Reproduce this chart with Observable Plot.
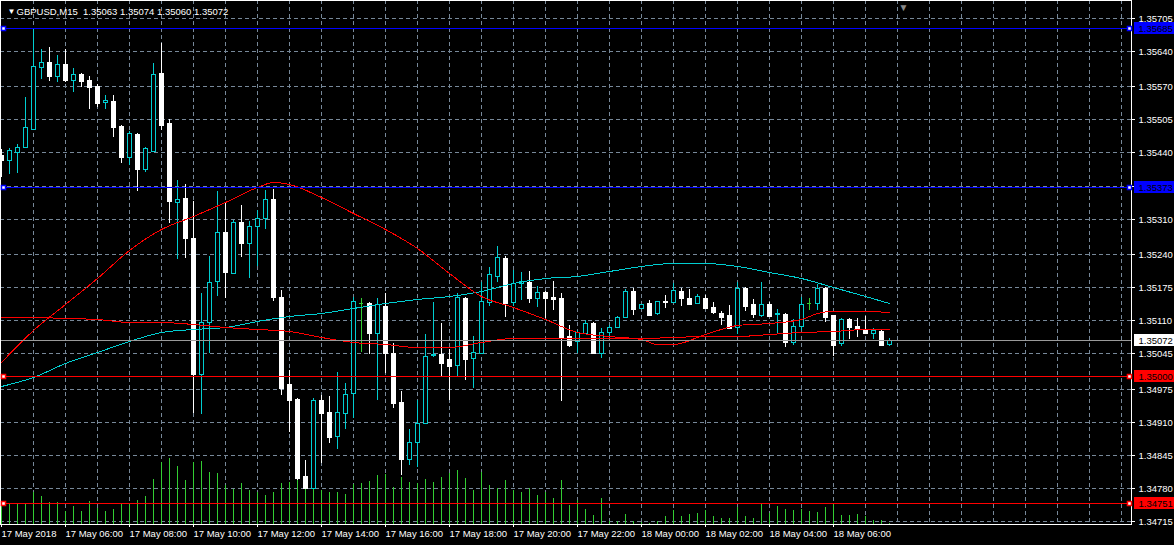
<!DOCTYPE html>
<html>
<head>
<meta charset="utf-8">
<script src="https://cdn.jsdelivr.net/npm/d3@7"></script>
<script src="https://cdn.jsdelivr.net/npm/@observablehq/plot@0.6"></script>
<style>
html, body { margin: 0; padding: 0; background: #000; }
#chart { width: 1174px; height: 545px; overflow: hidden; }
</style>
</head>
<body>
<div id="chart"></div>
<script>
// ---- GBPUSD M15, 17 May 2018 04:00 .. 18 May 2018 07:45 (bar index 0..111) ----
const opens = [
  1.35435,1.35425,1.35441,1.35451,1.35486,1.35608,1.35618,1.35590,1.35614,1.35583,
  1.35594,1.35583,1.35571,1.35539,1.35541,1.35492,1.35431,1.35476,1.35407,1.35443,
  1.35596,1.35498,1.35342,1.35350,1.35272,1.35004,1.35106,1.35187,1.35283,1.35203,
  1.35303,1.35262,1.35295,1.35311,1.35348,1.35156,1.34984,1.34955,1.34803,1.34780,
  1.34953,1.34929,1.34882,1.34927,1.34967,1.35144,1.35144,1.35085,1.35138,1.35045,
  1.34949,1.34837,1.34870,1.34908,1.35041,1.35043,1.35033,1.35022,1.35154,1.35035,
  1.35045,1.35146,1.35197,1.35232,1.35146,1.35183,1.35185,1.35154,1.35165,1.35156,
  1.35154,1.35079,1.35069,1.35085,1.35104,1.35045,1.35087,1.35097,1.35116,1.35167,
  1.35134,1.35144,1.35124,1.35148,1.35146,1.35167,1.35154,1.35144,1.35154,1.35136,
  1.35124,1.35120,1.35097,1.35173,1.35142,1.35120,1.35142,1.35122,1.35122,1.35067,
  1.35099,1.35144,1.35144,1.35173,1.35120,1.35065,1.35112,1.35099,1.35093,1.35085,
  1.35089,1.35063
];
const highs = [
  1.35447,1.35449,1.35457,1.35549,1.35685,1.35644,1.35648,1.35632,1.35644,1.35606,
  1.35596,1.35590,1.35575,1.35553,1.35553,1.35494,1.35482,1.35478,1.35451,1.35616,
  1.35655,1.35506,1.35386,1.35378,1.35344,1.35163,1.35236,1.35364,1.35340,1.35307,
  1.35337,1.35305,1.35327,1.35366,1.35368,1.35169,1.35012,1.34957,1.34835,1.34957,
  1.34963,1.34961,1.35008,1.34986,1.35156,1.35154,1.35146,1.35154,1.35163,1.35065,
  1.34971,1.34896,1.34953,1.35083,1.35146,1.35104,1.35053,1.35163,1.35156,1.35079,
  1.35185,1.35215,1.35256,1.35236,1.35209,1.35205,1.35207,1.35177,1.35167,1.35187,
  1.35163,1.35100,1.35091,1.35110,1.35106,1.35095,1.35100,1.35118,1.35171,1.35173,
  1.35142,1.35150,1.35148,1.35159,1.35183,1.35173,1.35171,1.35161,1.35159,1.35146,
  1.35128,1.35140,1.35185,1.35175,1.35152,1.35185,1.35146,1.35132,1.35124,1.35112,
  1.35156,1.35154,1.35181,1.35175,1.35120,1.35114,1.35114,1.35114,1.35118,1.35095,
  1.35091,1.35074
];
const lows = [
  1.35392,1.35398,1.35400,1.35449,1.35486,1.35585,1.35581,1.35579,1.35579,1.35559,
  1.35569,1.35525,1.35529,1.35525,1.35470,1.35419,1.35415,1.35364,1.35402,1.35441,
  1.35484,1.35301,1.35230,1.35232,1.34927,1.34925,1.35045,1.35157,1.35154,1.35201,
  1.35234,1.35193,1.35217,1.35289,1.35148,1.34963,1.34890,1.34795,1.34778,1.34778,
  1.34829,1.34868,1.34856,1.34896,1.34917,1.35047,1.35043,1.34953,1.35006,1.34937,
  1.34805,1.34825,1.34821,1.34906,1.35037,1.35000,1.34953,1.35000,1.34992,1.34976,
  1.35045,1.35138,1.35185,1.35116,1.35138,1.35150,1.35144,1.35136,1.35114,1.35130,
  1.34951,1.35057,1.35045,1.35085,1.35045,1.35035,1.35077,1.35095,1.35114,1.35120,
  1.35134,1.35118,1.35120,1.35134,1.35144,1.35138,1.35140,1.35142,1.35132,1.35122,
  1.35100,1.35093,1.35083,1.35128,1.35114,1.35116,1.35118,1.35083,1.35057,1.35061,
  1.35091,1.35130,1.35130,1.35106,1.35039,1.35059,1.35073,1.35077,1.35085,1.35073,
  1.35059,1.35060
];
const closes = [
  1.35425,1.35445,1.35451,1.35490,1.35610,1.35618,1.35590,1.35614,1.35583,1.35594,
  1.35581,1.35569,1.35537,1.35543,1.35490,1.35431,1.35478,1.35407,1.35449,1.35594,
  1.35494,1.35344,1.35348,1.35272,1.35004,1.35106,1.35185,1.35283,1.35205,1.35303,
  1.35262,1.35295,1.35311,1.35348,1.35156,1.34976,1.34953,1.34799,1.34780,1.34953,
  1.34927,1.34880,1.34929,1.34965,1.35148,1.35144,1.35085,1.35142,1.35045,1.34947,
  1.34837,1.34870,1.34908,1.35039,1.35043,1.35026,1.35020,1.35156,1.35033,1.35047,
  1.35148,1.35201,1.35234,1.35144,1.35183,1.35187,1.35154,1.35165,1.35154,1.35152,
  1.35077,1.35061,1.35087,1.35104,1.35045,1.35087,1.35097,1.35116,1.35167,1.35132,
  1.35142,1.35120,1.35148,1.35146,1.35169,1.35154,1.35142,1.35157,1.35134,1.35126,
  1.35116,1.35095,1.35173,1.35138,1.35122,1.35142,1.35118,1.35124,1.35067,1.35099,
  1.35142,1.35144,1.35173,1.35116,1.35061,1.35112,1.35097,1.35093,1.35085,1.35091,
  1.35061,1.35072
];
// tick volume per bar
const volumes = [
  190,200,200,200,320,280,220,220,130,180,
  130,230,160,130,150,210,210,240,280,450,
  620,660,580,440,620,630,520,510,390,350,
  410,340,320,290,320,410,420,550,460,410,
  340,320,320,300,400,410,430,490,500,370,
  470,420,410,450,420,470,510,540,460,340,
  520,390,360,440,340,320,360,290,320,260,
  440,190,240,145,90,260,30,25,100,30,
  20,10,25,80,135,80,100,110,135,80,
  60,60,165,80,60,210,110,180,145,140,
  145,130,115,165,200,90,90,100,80,40,
  40,10
];

// moving averages (read at these bar indices)
const maIdx = [0,4,8,12,16,20,24,28,32,36,40,44,48,52,56,60,64,68,72,76,80,84,88,92,96,100,104,108,111];
const maCyan = [1.34980,1.34998,1.35026,1.35047,1.35069,1.35087,1.35093,1.35097,1.35108,1.35118,1.35124,1.35134,1.35144,1.35152,1.35157,1.35167,1.35183,1.35193,1.35197,1.35207,1.35217,1.35222,1.35222,1.35217,1.35205,1.35193,1.35175,1.35157,1.35144];
const maSlowRed = [1.35116,1.35116,1.35114,1.35112,1.35106,1.35106,1.35102,1.35097,1.35093,1.35089,1.35077,1.35067,1.35063,1.35057,1.35057,1.35067,1.35075,1.35075,1.35075,1.35075,1.35075,1.35077,1.35079,1.35079,1.35083,1.35087,1.35089,1.35093,1.35093];
const fastIdx = [0,4,8,12,16,20,24,28,32,34,36,40,44,48,52,56,60,64,68,72,76,80,82,84,88,92,96,100,102,104,108,111];
const maFastRed = [1.35028,1.35091,1.35142,1.35193,1.35248,1.35289,1.35315,1.35342,1.35372,1.35382,1.35378,1.35352,1.35321,1.35289,1.35252,1.35203,1.35157,1.35136,1.35112,1.35087,1.35079,1.35073,1.35063,1.35063,1.35083,1.35100,1.35104,1.35112,1.35124,1.35128,1.35128,1.35126];

// horizontal line objects
const levelPrices = [1.35685, 1.35373, 1.35000, 1.34751];
const levelColors = ["#0000FF", "#0000FF", "#FF0000", "#FF0000"];
const bidPrice = 1.35072;

// axes
const priceTicks = [1.35705,1.35640,1.35570,1.35505,1.35440,1.35375,1.35310,1.35240,1.35175,1.35110,1.35045,1.34975,1.34910,1.34845,1.34780,1.34715];
const timeTickIdx = [0,8,16,24,32,40,48,56,64,72,80,88,96,104];
const timeTickLabels = ["17 May 2018","17 May 06:00","17 May 08:00","17 May 10:00","17 May 12:00","17 May 14:00","17 May 16:00","17 May 18:00","17 May 20:00","17 May 22:00","18 May 00:00","18 May 02:00","18 May 04:00","18 May 06:00"];
const symbolName = "GBPUSD,M15";
const shiftBar = 112.75;

// ---- build ----
const CYAN = "#00CED1", BEAR = "#FFFFFF", DOJI = "#32CD32", GRID = "#778899";
const yMin = 1.34709, yMax = 1.35740;
const xMin = -0.125, xMax = 141.25;
const VOL_K = 0.000001968;
const fmt = d3.format(".5f");

const bars = opens.map((o, i) => ({i, o, h: highs[i], l: lows[i], c: closes[i], v: volumes[i]}));
const col = d => d.c > d.o ? CYAN : d.c < d.o ? BEAR : DOJI;
const cyanPts = maIdx.map((i, k) => ({i, v: maCyan[k]}));
const slowPts = maIdx.map((i, k) => ({i, v: maSlowRed[k]}));
const fastPts = fastIdx.map((i, k) => ({i, v: maFastRed[k]}));
const levels = levelPrices.map((p, k) => ({price: p, color: levelColors[k]}));
const markers = [
  ...levels.map(d => ({price: d.price, bg: d.color, fg: "#000000"})),
  {price: bidPrice, bg: "#FFFFFF", fg: "#000000"}
];
const last = bars[bars.length - 1];
const header = `${symbolName}  ${fmt(last.o)} ${fmt(last.h)} ${fmt(last.l)} ${fmt(last.c)}`;
const lineOpts = {x: "i", y: "v", strokeWidth: 1, curve: "monotone-x", shapeRendering: "crispEdges"};

const chart = Plot.plot({
  width: 1174,
  height: 545,
  marginLeft: 0,
  marginRight: 43,
  marginTop: 0,
  marginBottom: 21,
  style: {background: "#000", color: "#fff", fontFamily: "'Liberation Sans', Arial, sans-serif", fontSize: "9.5px"},
  x: {domain: [xMin, xMax], round: true, axis: null, label: null},
  y: {domain: [yMin, yMax], round: true, axis: null, label: null},
  color: {type: "identity"},
  marks: [
    Plot.ruleY(priceTicks, {stroke: GRID, strokeDasharray: "4,3"}),
    Plot.ruleX(d3.range(4, 141, 4), {stroke: GRID, strokeDasharray: "4,3"}),
    Plot.ruleX(bars, {x: "i", y1: yMin, y2: d => yMin + d.v * VOL_K, stroke: DOJI}),
    // candles
    Plot.ruleX(bars, {x: "i", y1: "l", y2: "h", stroke: col}),
    Plot.rect(bars.filter(d => d.c !== d.o), {
      x1: d => d.i - 0.25, x2: d => d.i + 0.25, y1: "o", y2: "c",
      fill: d => d.c > d.o ? "#000000" : BEAR, stroke: col, dx: 0.5, dy: 0.5
    }),
    Plot.ruleY(bars.filter(d => d.c === d.o), {y: "o", x1: d => d.i - 0.25, x2: d => d.i + 0.25, stroke: DOJI}),
    // indicators
    Plot.line(cyanPts, {...lineOpts, stroke: CYAN}),
    Plot.line(slowPts, {...lineOpts, stroke: "#FF0000"}),
    Plot.line(fastPts, {...lineOpts, stroke: "#FF0000"}),
    // objects
    Plot.ruleY([bidPrice], {stroke: "#9a9a9a"}),
    Plot.ruleY(levels, {y: "price", stroke: "color"}),
    Plot.frame({stroke: "#ffffff"}),
    Plot.dot(levels, {x: xMin, y: "price", dx: 3, symbol: "square", r: 2.3, fill: "#ffffff", stroke: "color"}),
    Plot.dot(levels, {x: xMax, y: "price", dx: -2, symbol: "square", r: 2.3, fill: "#ffffff", stroke: "color"}),
    // axes
    Plot.axisY({ticks: priceTicks, anchor: "right", label: null, tickSize: 3, tickPadding: 4, tickFormat: fmt, color: "#ffffff", fontSize: 9.5}),
    Plot.axisX({ticks: timeTickIdx, anchor: "bottom", label: null, tickSize: 3, tickPadding: 3, textAnchor: "start",
      tickFormat: i => timeTickLabels[timeTickIdx.indexOf(i)], color: "#ffffff", fontSize: 9.5}),
    // price labels on the right
    Plot.rect(markers, {x1: xMax, x2: xMax, y1: "price", y2: "price", insetLeft: 3, insetRight: -43, insetTop: -6, insetBottom: -6, fill: "bg"}),
    Plot.text(markers, {x: xMax, y: "price", text: d => fmt(d.price), dx: 7, textAnchor: "start", fill: "fg", fontSize: 9.5}),
    // header and shift marker
    Plot.text(["\u25BC"], {frameAnchor: "top-left", dx: 7, dy: 8, fill: "#ffffff", fontSize: 8}),
    Plot.text([header], {frameAnchor: "top-left", dx: 16, dy: 8, textAnchor: "start", fill: "#ffffff", fontSize: 9.5}),
    Plot.text(["\u25BC"], {x: shiftBar, frameAnchor: "top", dy: 3, fill: "#8a8a8a", fontSize: 10})
  ]
});
document.getElementById("chart").appendChild(chart);
</script>
</body>
</html>
